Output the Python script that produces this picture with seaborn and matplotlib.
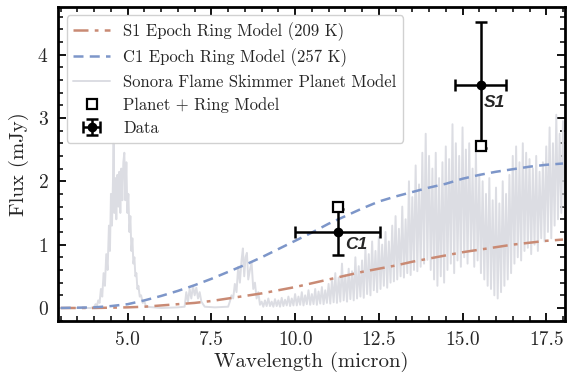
import numpy as np
import pandas as pd
import matplotlib
matplotlib.use('Agg')
import matplotlib.pyplot as plt
import seaborn as sns

# Ring model curves
ring_x = [3.0, 4.0, 4.5, 5.0, 5.5, 6.0, 6.5, 7.0, 7.5, 8.0, 8.5, 9.0, 9.5, 10.0, 10.5,
          11.0, 11.5, 12.0, 12.5, 13.0, 13.5, 14.0, 14.5, 15.0, 15.5, 16.0, 16.5, 17.0, 17.5, 18.0]
s1_ring = [0.0, 0.0, 0.005, 0.01, 0.02, 0.04, 0.06, 0.08, 0.11, 0.15, 0.19, 0.23, 0.28, 0.33, 0.39,
           0.45, 0.51, 0.57, 0.62, 0.67, 0.73, 0.78, 0.83, 0.88, 0.92, 0.96, 1.00, 1.03, 1.06, 1.08]
c1_ring = [0.0, 0.01, 0.03, 0.06, 0.12, 0.19, 0.27, 0.36, 0.46, 0.57, 0.68, 0.80, 0.93, 1.06, 1.19,
           1.33, 1.45, 1.57, 1.68, 1.76, 1.83, 1.90, 1.96, 2.04, 2.10, 2.15, 2.19, 2.23, 2.26, 2.28]

# Sonora Flame Skimmer spectrum, short wavelength part
spec_x_short = [2.9, 3.5, 3.9,
                4.00, 4.04, 4.08, 4.12, 4.16, 4.20, 4.24, 4.28, 4.32, 4.36, 4.40, 4.44, 4.47,
                4.50, 4.53, 4.56, 4.58, 4.60, 4.63, 4.66, 4.69, 4.72, 4.75, 4.78, 4.81, 4.84,
                4.87, 4.90, 4.93, 4.96, 4.99, 5.02, 5.05, 5.08, 5.11, 5.14, 5.17, 5.20, 5.23,
                5.26, 5.29, 5.32, 5.36, 5.40, 5.45, 5.50, 5.55,
                6.0, 6.5, 6.7, 6.75, 6.8, 6.85, 6.9, 6.95, 7.0, 7.05,
                7.1, 7.15, 7.2, 7.3, 7.6, 8.0, 8.05, 8.1, 8.15, 8.2, 8.25, 8.3, 8.35, 8.4, 8.44,
                8.48, 8.52, 8.56, 8.6, 8.65, 8.7, 8.75, 8.8, 8.85, 8.9, 8.95]
spec_y_short = [0.0, 0.0, 0.0,
                0.02, 0.06, 0.03, 0.12, 0.08, 0.30, 0.18, 0.55, 0.35, 0.85, 0.60, 1.30, 0.90,
                1.80, 1.30, 2.00, 2.60, 1.50, 2.05, 1.40, 2.10, 1.60, 2.15, 1.50, 2.20, 1.70,
                2.30, 2.45, 1.70, 2.30, 1.50, 1.80, 1.20, 1.45, 0.90, 1.10, 0.70, 0.80, 0.50,
                0.55, 0.30, 0.35, 0.18, 0.20, 0.08, 0.10, 0.02,
                0.0, 0.01, 0.02, 0.25, 0.1, 0.3, 0.15, 0.35, 0.2, 0.32,
                0.15, 0.25, 0.1, 0.02, 0.01, 0.02, 0.1, 0.2, 0.15, 0.38, 0.25, 0.65, 0.4, 0.75, 0.94,
                0.5, 0.8, 0.87, 0.45, 0.6, 0.72, 0.3, 0.4, 0.15, 0.25, 0.05]

# long wavelength part (9 - 18.1 micron)
spec_x_long = [9.00, 9.05, 9.10, 9.15, 9.20, 9.25, 9.30, 9.35, 9.40, 9.45, 9.50, 9.55, 9.60, 9.65, 9.70, 9.75, 9.80, 9.85, 9.90, 9.95,
               10.00, 10.05, 10.10, 10.15, 10.20, 10.25, 10.30, 10.35, 10.40, 10.45, 10.50, 10.55, 10.60, 10.65, 10.70, 10.75, 10.80, 10.85, 10.90, 10.95,
               11.00, 11.05, 11.10, 11.15, 11.20, 11.25, 11.30, 11.35, 11.40, 11.45, 11.50, 11.55, 11.60, 11.65, 11.70, 11.75, 11.80, 11.85, 11.90, 11.95,
               12.00, 12.05, 12.10, 12.15, 12.20, 12.25, 12.30, 12.35, 12.40, 12.45, 12.50, 12.55, 12.60, 12.65, 12.70, 12.75, 12.80, 12.85, 12.90, 12.95,
               13.00, 13.05, 13.10, 13.15, 13.20, 13.25, 13.30, 13.35, 13.40, 13.45, 13.50, 13.55, 13.60, 13.65, 13.70, 13.75, 13.80, 13.85, 13.90, 13.95,
               14.00, 14.05, 14.10, 14.15, 14.20, 14.25, 14.30, 14.35, 14.40, 14.45, 14.50, 14.55, 14.60, 14.65, 14.70, 14.75, 14.80, 14.85, 14.90, 14.95,
               15.00, 15.05, 15.10, 15.15, 15.20, 15.25, 15.30, 15.35, 15.40, 15.45, 15.50, 15.55, 15.60, 15.65, 15.70, 15.75, 15.80, 15.85, 15.90, 15.95,
               16.00, 16.05, 16.10, 16.15, 16.20, 16.25, 16.30, 16.35, 16.40, 16.45, 16.50, 16.55, 16.60, 16.65, 16.70, 16.75, 16.80, 16.85, 16.90, 16.95,
               17.00, 17.05, 17.10, 17.15, 17.20, 17.25, 17.30, 17.35, 17.40, 17.45, 17.50, 17.55, 17.60, 17.65, 17.70, 17.75, 17.80, 17.85, 17.90, 17.95,
               18.00, 18.05, 18.10]
spec_y_long = [0.10, 0.02, 0.12, 0.03, 0.15, 0.03, 0.10, 0.02, 0.14, 0.03, 0.12, 0.02, 0.16, 0.03, 0.13, 0.04, 0.18, 0.03, 0.15, 0.04,
               0.22, 0.04, 0.18, 0.05, 0.25, 0.04, 0.20, 0.06, 0.28, 0.05, 0.22, 0.06, 0.30, 0.05, 0.26, 0.07, 0.33, 0.06, 0.28, 0.08,
               0.38, 0.07, 0.45, 0.09, 0.55, 0.08, 0.48, 0.10, 0.70, 0.12, 0.52, 0.10, 0.62, 0.14, 0.58, 0.12, 0.80, 0.15, 0.66, 0.18,
               0.75, 0.16, 0.95, 0.22, 0.85, 0.20, 1.05, 0.28, 0.90, 0.25, 1.12, 0.30, 1.00, 0.35, 1.20, 0.32, 1.05, 0.40, 1.30, 0.42,
               1.45, 0.45, 1.25, 0.50, 1.60, 0.48, 1.40, 0.55, 2.00, 0.52, 1.75, 0.60, 2.25, 0.58, 1.95, 0.65, 2.45, 0.70, 2.75, 0.76,
               2.40, 0.60, 2.20, 0.45, 2.45, 0.35, 2.05, 0.50, 2.30, 0.40, 2.55, 0.60, 2.35, 0.70, 2.90, 0.55, 2.60, 0.75, 2.40, 0.65,
               2.85, 0.80, 2.50, 0.70, 2.60, 0.90, 2.20, 0.65, 2.45, 0.75, 2.10, 0.55, 2.00, 0.45, 1.80, 0.35, 2.05, 0.30, 1.70, 0.20,
               1.90, 0.15, 1.65, 0.25, 2.00, 0.35, 1.80, 0.45, 2.10, 0.55, 2.40, 0.70, 2.55, 0.80, 2.30, 0.75, 2.60, 0.90, 2.45, 0.95,
               2.35, 0.85, 2.20, 1.00, 2.40, 0.90, 2.15, 1.10, 2.30, 1.05, 2.55, 1.20, 2.85, 1.10, 2.60, 1.30, 3.05, 1.40, 2.75, 1.50,
               2.95, 1.60, 2.90]

# photometry
epochs = ['C1', 'S1']
data_wl = [11.28, 15.54]
data_wl_err = [1.27, 0.76]
data_flux = [1.20, 3.52]
data_flux_err = [0.36, 1.0]
model_flux = [1.60, 2.56]

sns.set_theme(style='ticks')
plt.rcParams['font.family'] = ['cmr10', 'DejaVu Serif']
plt.rcParams['axes.formatter.use_mathtext'] = True
plt.rcParams['mathtext.fontset'] = 'cm'

ring_df = pd.DataFrame({'Wavelength': ring_x, 'S1': s1_ring, 'C1': c1_ring})
spec_df = pd.DataFrame({'Wavelength': spec_x_short + spec_x_long,
                        'Flux': spec_y_short + spec_y_long})

fig = plt.figure(figsize=(5.78, 3.90), dpi=100)
ax = fig.add_axes([0.101, 0.177, 0.8765, 0.805])

sns.lineplot(data=spec_df, x='Wavelength', y='Flux', ax=ax, color='#dcdde3',
             lw=1.4, sort=False, label='Sonora Flame Skimmer Planet Model', zorder=1)
sns.lineplot(data=ring_df, x='Wavelength', y='S1', ax=ax, color='#c98a74', lw=1.8,
             linestyle=(0, (6, 2.5, 1.5, 2.5)), label='S1 Epoch Ring Model (209 K)', zorder=2)
sns.lineplot(data=ring_df, x='Wavelength', y='C1', ax=ax, color='#7d96c9', lw=1.8,
             linestyle=(0, (4, 2.5)), label='C1 Epoch Ring Model (257 K)', zorder=2)

eb = ax.errorbar(data_wl, data_flux, xerr=data_wl_err, yerr=data_flux_err, fmt='o',
                 color='black', ms=6, elinewidth=1.8, capsize=4, capthick=1.8,
                 label='Data', zorder=4)
sq, = ax.plot(data_wl, model_flux, 's', ms=7.5, mfc='white', mec='black', mew=1.6,
              label='Planet + Ring Model', zorder=5, linestyle='none')

ax.text(data_wl[0] + 0.2, data_flux[0] - 0.2, epochs[0], fontsize=12.5, fontweight='bold',
        fontstyle='italic', family='Liberation Sans', va='center', ha='left')
ax.text(data_wl[1] + 0.1, data_flux[1] - 0.28, epochs[1], fontsize=12.5, fontweight='bold',
        fontstyle='italic', family='Liberation Sans', va='center', ha='left')

ax.set_xlim(2.93, 18.06)
ax.set_ylim(-0.205, 4.75)
ax.set_xticks([5.0, 7.5, 10.0, 12.5, 15.0, 17.5])
ax.set_xticklabels(['5.0', '7.5', '10.0', '12.5', '15.0', '17.5'])
ax.set_yticks([0, 1, 2, 3, 4])
ax.xaxis.set_minor_locator(matplotlib.ticker.MultipleLocator(0.5))
ax.yaxis.set_minor_locator(matplotlib.ticker.MultipleLocator(0.2))
ax.tick_params(which='both', direction='in', top=True, right=True, color='black')
ax.tick_params(which='major', length=6, width=1.3, labelsize=14, pad=7)
ax.tick_params(which='minor', length=3.5, width=1.1)
for s in ax.spines.values():
    s.set_linewidth(2)
    s.set_color('black')

ax.set_xlabel('Wavelength (micron)', fontsize=15, labelpad=2)
ax.set_ylabel('Flux (mJy)', fontsize=15, labelpad=6)

h, l = ax.get_legend_handles_labels()
lookup = dict(zip(l, h))
order = ['S1 Epoch Ring Model (209 K)', 'C1 Epoch Ring Model (257 K)',
         'Sonora Flame Skimmer Planet Model', 'Planet + Ring Model', 'Data']
ax.legend([lookup[k] for k in order], order, loc='upper left', fontsize=12,
          frameon=True, fancybox=True, framealpha=0.9, edgecolor='#cccccc',
          borderaxespad=0.5, labelspacing=0.45, handlelength=2.2)

fig.savefig('out.png', dpi=100)
